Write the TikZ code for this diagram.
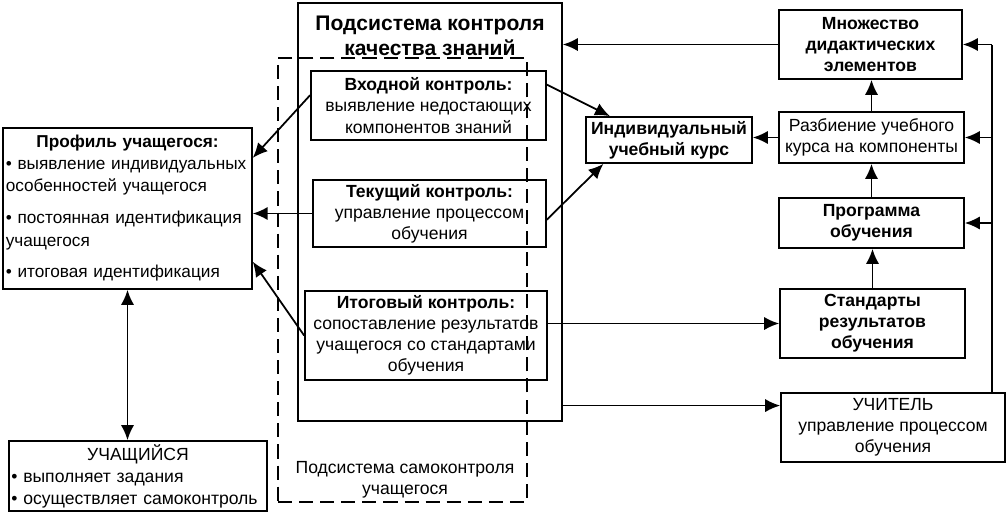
\documentclass[tikz,border=0pt]{standalone}
\usepackage{fontspec}
\setmainfont{Liberation Sans}
\usetikzlibrary{arrows.meta}

\begin{document}
\begin{tikzpicture}[x=0.02cm, y=-0.02cm, >={Latex[length=8.5pt,width=7.5pt]}, line width=1pt,
  blk/.style={draw, align=center, inner sep=2pt},
  lst/.style={draw, align=left, inner sep=1.5pt, font=\fontsize{9.8}{13}\selectfont}]
\useasboundingbox (0,0) rectangle (1008,514);
% two subsystems
\node[draw, minimum width=5.28cm, minimum height=8.36cm] (kach) at (430,212) {};
\node[font=\large\bfseries, align=center] (kachtxt) at (430,36) {Подсистема контроля\\качества знаний};
\node[draw, dash pattern=on 8pt off 4pt, minimum width=4.98cm, minimum height=8.88cm] (samo) at (402.5,280) {};
\node[align=center] (samotxt) at (405,480) {Подсистема самоконтроля\\учащегося};
% control boxes
\node[blk, minimum width=4.7cm, minimum height=1.38cm] (vhod) at (428.5,105.5)
  {\textbf{Входной контроль:}\\выявление недостающих\\компонентов знаний};
\node[blk, minimum width=4.66cm, minimum height=1.34cm] (tek) at (429.5,213.5)
  {\textbf{Текущий контроль:}\\управление процессом\\обучения};
\node[blk, minimum width=4.84cm, minimum height=1.78cm] (itog) at (426,335.5)
  {\textbf{Итоговый контроль:}\\сопоставление результатов\\учащегося со стандартами\\обучения};
% learner
\node[lst, text width=4.87cm, minimum height=3.22cm] (prof) at (127.5,208.5)
  {\hfill\textbf{Профиль учащегося:}\hfill\null\\[-1pt]
   \mbox{• выявление индивидуальных}\\особенностей учащегося\\[5pt]
   \mbox{• постоянная идентификация}\\учащегося\\[5pt]
   • итоговая идентификация};
\node[lst, text width=5.07cm, minimum height=1.4cm, font=\fontsize{10}{12.5}\selectfont] (uchas) at (138,476)
  {\hfill УЧАЩИЙСЯ\hfill\null\\
   • выполняет задания\\
   • осуществляет самоконтроль};
% course side
\node[blk, minimum width=3.32cm, minimum height=0.92cm, font=\bfseries] (ind) at (669,140)
  {Индивидуальный\\учебный курс};
\node[blk, minimum width=3.66cm, minimum height=1.38cm, font=\bfseries] (mnoz) at (870.5,44.5)
  {Множество\\дидактических\\элементов};
\node[blk, minimum width=3.7cm, minimum height=1.02cm] (razb) at (871.5,137.5)
  {Разбиение учебного\\курса на компоненты};
\node[blk, minimum width=3.7cm, minimum height=1.0cm, font=\bfseries] (prog) at (871.5,223)
  {Программа\\обучения};
\node[blk, minimum width=3.7cm, minimum height=1.38cm, font=\bfseries] (stand) at (872.5,323.5)
  {Стандарты\\результатов\\обучения};
\node[blk, minimum width=4.48cm, minimum height=1.38cm] (uchit) at (893,427.5)
  {УЧИТЕЛЬ\\управление процессом\\обучения};
% arrows
\draw[->] (mnoz.west) -- (mnoz.west -| kach.east);
\draw[->] (vhod.10) -- (ind.158);
\draw[->] (tek.-3) -- (ind.200);
\draw[->] (vhod.175) -- (prof.22);
\draw[->] (tek.west) -- (tek.west -| prof.east);
\draw[->] (itog.west) -- (prof.-23);
\draw[->] (itog.east |- stand.west) -- (stand.west);
\draw[->] (kach.east |- uchit.169) -- (uchit.169);
\draw[->] (razb.west) -- (razb.west -| ind.east);
\draw[->] (razb.north) -- (razb.north |- mnoz.south);
\draw[->] (prog.north) -- (razb.south);
\draw[->] (stand.north) -- (stand.north |- prog.south);
\coordinate (rt) at (992,42);
\draw (uchit.north -| rt) -- (mnoz.east -| rt);
\draw[->] (mnoz.east -| rt) -- (mnoz.east);
\draw[->] (razb.east -| rt) -- (razb.east);
\draw[->] (prog.east -| rt) -- (prog.east);
\draw[<->] (prof.south) -- (prof.south |- uchas.north);
\end{tikzpicture}
\end{document}
